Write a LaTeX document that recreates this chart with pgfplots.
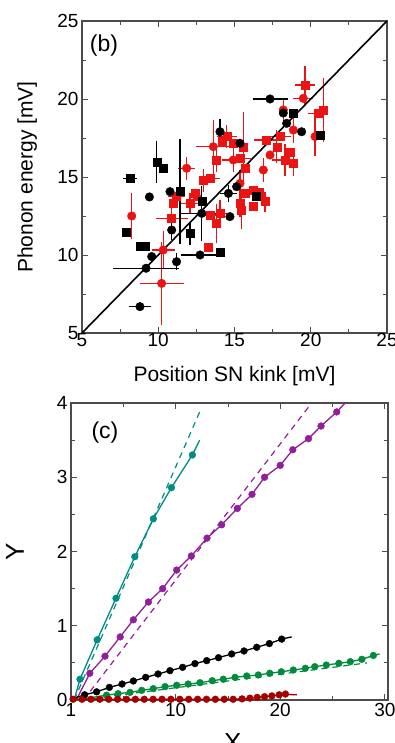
\documentclass[border=0pt]{standalone}
\usepackage{pgfplots}
\pgfplotsset{compat=1.18}
\usepackage{fontspec}
\setmainfont{Liberation Sans}
\definecolor{myred}{RGB}{235,20,20}
\definecolor{cya}{RGB}{0,140,135}
\definecolor{purp}{RGB}{145,30,155}
\definecolor{grn}{RGB}{0,140,60}
\definecolor{dred}{RGB}{165,0,0}
\pgfplotsset{
  myax/.style={
    scale only axis, tick align=inside,
    /pgf/number format/assume math mode=true,
    axis line style={line width=1.1pt, black!70},
    major tick length=6pt, minor tick length=4pt,
    every tick/.style={black!70, line width=0.8pt},
    tick label style={font=\fontsize{19}{21}\selectfont},
    label style={font=\fontsize{21}{23}\selectfont},
  },
  eb/.style={error bars/.cd, x dir=both, x explicit, y dir=both, y explicit,
    error bar style={line width=1.3pt, #1},
    error mark options={mark size=3.8pt, line width=1.3pt, #1}},
}
\begin{document}
\begin{tikzpicture}
% ---------------- panel (b)
\begin{axis}[myax,
  at={(82pt,410pt)}, anchor=south west, width=305pt, height=312pt,
  xmin=5, xmax=25, ymin=5, ymax=25,
  xtick={5,10,15,20,25}, ytick={5,10,15,20,25},
  minor xtick={7.5,12.5,17.5,22.5}, minor ytick={7.5,12.5,17.5,22.5},
  xticklabel style={yshift=3pt},
  xlabel={Position SN kink [mV]}, ylabel={Phonon energy [mV]},
  xlabel style={at={(axis description cs:0.5,-0.138)}, anchor=center},
  ylabel style={at={(axis description cs:-0.18,0.5)}, anchor=center},
]
% red squares
\addplot[only marks, mark=square*, mark size=4pt, color=myred, eb=myred] coordinates {
(11.2,13.74) +- (0.3,0.3)
(10.99,13.31) +- (0,0)
(10.88,12.35) +- (0.8,0.5)
(12.08,13.31) +- (0.4,0.4)
(12.41,13.95) +- (0,0)
(12.96,14.8) +- (0,0.5)
(13.39,14.91) +- (0.4,0)
(13.28,10.53) +- (0,0)
(13.83,16.09) +- (0,0.5)
(13.39,12.56) +- (0.5,0)
(13.83,12.03) +- (0,1.0)
(14.05,12.67) +- (0.5,0.6)
(14.49,17.59) +- (0.4,0.5)
(14.92,17.16) +- (0,0)
(15.58,16.94) +- (0,2.0)
(15.36,16.2) +- (0.5,0)
(15.69,15.56) +- (0,0)
(15.69,13.95) +- (0,0)
(16.23,14.17) +- (0.4,0)
(15.36,13.31) +- (0,0.6)
(15.47,12.88) +- (0,1.0)
(16.23,13.1) +- (0,0)
(17.0,13.42) +- (0,0.4)
(17.11,17.37) +- (0.6,0)
(17.77,16.94) +- (0,0.8)
(17.98,17.59) +- (0.5,0)
(18.31,16.09) +- (0.6,0.8)
(18.64,16.62) +- (0,0)
(18.86,15.88) +- (0,0.6)
(19.62,20.9) +- (0.4,1.0)
(20.5,19.08) +- (0.4,0)
(20.82,19.29) +- (0,1.8)
(14.2,17.3) +- (0,0)
(16.6,14.0) +- (0,0)
};
% red circles
\addplot[only marks, mark=*, mark size=4.3pt, color=myred, eb=myred] coordinates {
(8.26,12.5) +- (0,1.2)
(10.22,8.18) +- (1.2,2.4)
(11.86,15.56) +- (0.3,0.5)
(10.33,10.32) +- (0.5,1.0)
(13.61,16.94) +- (0.9,1.5)
(14.92,16.09) +- (0.5,0.5)
(15.36,14.59) +- (0,0.6)
(16.89,15.45) +- (0,0.5)
(17.33,16.41) +- (0,0)
(18.2,19.3) +- (0,0.5)
(18.86,18.01) +- (0,0.6)
(19.51,20.04) +- (0.4,0)
(20.28,17.59) +- (0,1.0)
(12.52,13.74) +- (0,0)
};
% black squares
\addplot[only marks, mark=square*, mark size=4pt, color=black, eb=black] coordinates {
(8.15,14.9) +- (0.2,0)
(7.93,11.45) +- (0,0)
(9.9,15.98) +- (0,1.1)
(10.33,15.55) +- (0,0)
(8.8,10.58) +- (0,0)
(9.13,10.58) +- (0,0)
(12.08,11.39) +- (0,0.5)
(14.05,10.21) +- (0,0)
(12.85,13.42) +- (0,0)
(11.43,14.06) +- (0,3.1)
(20.6,17.7) +- (0,0)
(18.86,19.08) +- (0,0)
(16.45,13.74) +- (0,0)
};
% black circles
\addplot[only marks, mark=*, mark size=4.3pt, color=black, eb=black] coordinates {
(17.33,20.0) +- (0.9,0)
(9.42,13.72) +- (0,0)
(10.77,14.06) +- (0,0)
(11.2,9.57) +- (0,0.3)
(10.88,11.6) +- (0,0.4)
(12.74,10.0) +- (1.0,0)
(12.85,12.67) +- (1.1,1.5)
(14.05,17.9) +- (0,0.6)
(14.6,13.95) +- (0.3,0.3)
(14.7,12.46) +- (0,0)
(8.8,6.69) +- (0.5,0)
(9.2,9.15) +- (1.9,0)
(9.57,9.9) +- (0,0)
(18.42,18.44) +- (0,0)
(19.4,17.9) +- (0,0)
(18.2,19.1) +- (0,0)
(15.14,14.38) +- (0,0)
(15.36,17.16) +- (0,0)
};
\addplot[black, line width=1.6pt] coordinates {(5,5) (25,25)};
\node[font=\fontsize{23}{25}\selectfont] at (axis description cs:0.072,0.92) {(b)};
\end{axis}
% ---------------- panel (c)
\begin{axis}[myax,
  at={(71pt,43pt)}, anchor=south west, width=317pt, height=297pt,
  xmin=0, xmax=30.3, ymin=0, ymax=4, clip=false,
  xtick={0,10,20,30}, xticklabels={1,10,20,30}, minor xtick={5,15,25},
  ytick={0,1,2,3,4}, minor ytick={0.5,1.5,2.5,3.5},
  xlabel={X}, ylabel={Y},
  label style={font=\fontsize{26}{28}\selectfont},
  xlabel style={at={(axis description cs:0.51,-0.1)}, anchor=north},
  ylabel style={at={(axis description cs:-0.177,0.5)}, anchor=center},
]
% dashed fits
\addplot[cya, line width=1.2pt, dash pattern=on 6pt off 5pt] coordinates {(0.3,0) (12.3,3.88)};
\addplot[purp, line width=1.2pt, dash pattern=on 6pt off 5pt] coordinates {(1.2,0) (23.0,4.0)};
\addplot[grn, line width=1.2pt, dash pattern=on 6pt off 5pt] coordinates {(1.0,0) (28.3,0.50)};
% solid lines
\addplot[cya, line width=1.3pt] coordinates {(0.3,0) (0.86,0.28) (2.5,0.81) (4.3,1.37) (6.1,1.93) (7.87,2.44) (9.6,2.86) (11.6,3.30) (12.3,3.50)};
\addplot[purp, line width=1.3pt] coordinates {(0.5,0) (1.8,0.36) (3.25,0.59) (4.7,0.85) (5.96,1.08) (7.4,1.32) (8.76,1.5) (10.1,1.75) (11.5,1.94) (13.0,2.18) (14.4,2.36) (15.9,2.58) (17.3,2.77) (18.5,3.0) (20.0,3.16) (21.2,3.37) (22.7,3.52) (23.9,3.69) (25.4,3.88) (26.2,4.0)};
\addplot[black, line width=1.3pt] coordinates {(0.2,0.02) (1.3,0.07) (2.45,0.11) (3.67,0.17) (4.88,0.215) (5.96,0.256) (7.14,0.305) (8.32,0.35) (9.46,0.395) (10.67,0.44) (11.85,0.49) (12.97,0.53) (14.1,0.57) (15.36,0.62) (16.54,0.66) (17.75,0.71) (18.96,0.76) (20.14,0.82) (21.1,0.85)};
\addplot[grn, line width=1.3pt] coordinates {(0.5,0) (3.4,0.065) (4.5,0.085) (5.64,0.103) (6.76,0.13) (7.87,0.153) (8.99,0.18) (10.1,0.198) (11.2,0.215) (12.33,0.233) (13.5,0.26) (14.56,0.28) (15.68,0.305) (16.8,0.323) (17.9,0.337) (19.0,0.36) (20.1,0.38) (21.25,0.404) (22.4,0.427) (23.3,0.449) (24.4,0.471) (25.6,0.494) (26.7,0.516) (27.8,0.548) (28.9,0.6) (29.5,0.62)};
\addplot[dred, line width=1.3pt] coordinates {(0,0.01) (15.5,0.01) (17.1,0.025) (18.5,0.045) (20.5,0.075) (21.6,0.07)};
% markers
\addplot[only marks, mark=*, mark size=3.4pt, color=cya] coordinates {(0.86,0.28) (2.5,0.81) (4.3,1.37) (6.1,1.93) (7.87,2.44) (9.6,2.86) (11.6,3.30)};
\addplot[only marks, mark=*, mark size=3.4pt, color=purp] coordinates {(1.8,0.36) (3.25,0.59) (4.7,0.85) (5.96,1.08) (7.4,1.32) (8.76,1.5) (10.1,1.75) (11.5,1.94) (13.0,2.18) (14.4,2.36) (15.9,2.58) (17.3,2.77) (18.5,3.0) (20.0,3.16) (21.2,3.37) (22.7,3.52) (23.9,3.69) (25.4,3.88)};
\addplot[only marks, mark=*, mark size=3.4pt, color=black] coordinates {(1.3,0.07) (2.45,0.11) (3.67,0.17) (4.88,0.215) (5.96,0.256) (7.14,0.305) (8.32,0.35) (9.46,0.395) (10.67,0.44) (11.85,0.49) (12.97,0.53) (14.1,0.57) (15.36,0.62) (16.54,0.66) (17.75,0.71) (18.96,0.76) (20.14,0.82)};
\addplot[only marks, mark=*, mark size=3.4pt, color=grn] coordinates {(3.4,0.065) (4.5,0.085) (5.64,0.103) (6.76,0.13) (7.87,0.153) (8.99,0.18) (10.1,0.198) (11.2,0.215) (12.33,0.233) (13.5,0.26) (14.56,0.28) (15.68,0.305) (16.8,0.323) (17.9,0.337) (19.0,0.36) (20.1,0.38) (21.25,0.404) (22.4,0.427) (23.3,0.449) (24.4,0.471) (25.6,0.494) (26.7,0.516) (27.8,0.548) (28.9,0.6)};
\addplot[only marks, mark=*, mark size=3.4pt, color=dred] coordinates {(0.2,0.01) (1.05,0.01) (1.9,0.01) (2.75,0.01) (3.6,0.01) (4.45,0.01) (5.3,0.01) (6.15,0.01) (7.0,0.01) (7.85,0.01) (8.7,0.01) (9.55,0.01) (10.4,0.01) (11.25,0.01) (12.1,0.01) (12.95,0.01) (13.8,0.01) (14.65,0.01) (15.5,0.01) (16.35,0.015) (17.1,0.025) (17.8,0.035) (18.5,0.045) (19.2,0.055) (19.9,0.07) (20.5,0.08)};
\node[font=\fontsize{23}{25}\selectfont] at (axis description cs:0.107,0.902) {(c)};
\end{axis}
\pgfresetboundingbox
\path[use as bounding box] (0pt,0pt) rectangle (395pt,743pt);
\end{tikzpicture}
\end{document}
